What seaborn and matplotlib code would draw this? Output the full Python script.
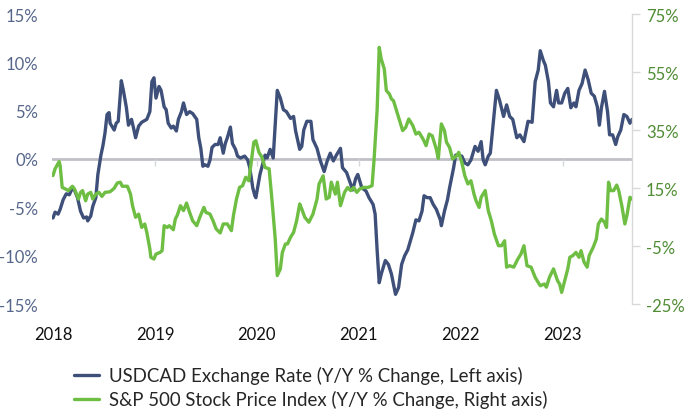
import numpy as np
import pandas as pd
import seaborn as sns
from matplotlib import pyplot as plt
from matplotlib.lines import Line2D

# USDCAD y/y % change (left axis), dates as decimal years
usdcad_t = [2018.00, 2018.02, 2018.05, 2018.07, 2018.10, 2018.13, 2018.16, 2018.19, 2018.21, 2018.24,
            2018.27, 2018.30, 2018.33, 2018.34, 2018.37, 2018.39, 2018.42, 2018.44, 2018.47, 2018.49,
            2018.51, 2018.53, 2018.55, 2018.56, 2018.60, 2018.62, 2018.64, 2018.67, 2018.69, 2018.72,
            2018.74, 2018.77, 2018.79, 2018.81, 2018.84, 2018.87, 2018.92, 2018.95, 2018.97, 2018.99,
            2019.01, 2019.04, 2019.06, 2019.09, 2019.11, 2019.13, 2019.16, 2019.18, 2019.21, 2019.23,
            2019.26, 2019.28, 2019.31, 2019.34, 2019.37, 2019.41, 2019.43, 2019.45, 2019.47, 2019.49,
            2019.52, 2019.54, 2019.56, 2019.59, 2019.62, 2019.64, 2019.67, 2019.69, 2019.71, 2019.74,
            2019.76, 2019.79, 2019.81, 2019.84, 2019.88, 2019.91, 2019.93, 2019.96, 2019.98, 2019.99,
            2020.03, 2020.08, 2020.10, 2020.13, 2020.16, 2020.20, 2020.23, 2020.26, 2020.29, 2020.33,
            2020.36, 2020.38, 2020.42, 2020.44, 2020.46, 2020.49, 2020.53, 2020.55, 2020.59, 2020.62,
            2020.66, 2020.69, 2020.72, 2020.75, 2020.78, 2020.82, 2020.84, 2020.88, 2020.91, 2020.94,
            2020.97, 2020.99, 2021.03, 2021.07, 2021.10, 2021.14, 2021.16, 2021.18, 2021.20, 2021.22,
            2021.26, 2021.29, 2021.32, 2021.36, 2021.39, 2021.42, 2021.45, 2021.48, 2021.51, 2021.53,
            2021.56, 2021.59, 2021.62, 2021.64, 2021.67, 2021.70, 2021.73, 2021.76, 2021.80, 2021.81,
            2021.84, 2021.87, 2021.89, 2021.93, 2021.95, 2021.97, 2022.01, 2022.04, 2022.07, 2022.10,
            2022.12, 2022.14, 2022.17, 2022.20, 2022.22, 2022.24, 2022.27, 2022.29, 2022.32, 2022.35,
            2022.38, 2022.42, 2022.45, 2022.48, 2022.51, 2022.55, 2022.58, 2022.62, 2022.66, 2022.70,
            2022.73, 2022.76, 2022.78, 2022.81, 2022.83, 2022.86, 2022.88, 2022.91, 2022.94, 2022.96,
            2022.99, 2023.02, 2023.05, 2023.08, 2023.11, 2023.13, 2023.16, 2023.19, 2023.22, 2023.25,
            2023.28, 2023.31, 2023.34, 2023.36, 2023.38, 2023.41, 2023.44, 2023.46, 2023.49, 2023.52,
            2023.54, 2023.57, 2023.60, 2023.63, 2023.66, 2023.68]
usdcad_v = [-6.1, -5.5, -5.7, -5.2, -4.2, -3.6, -3.7, -3.0, -3.2, -4.0,
            -5.4, -6.1, -6.0, -6.4, -5.9, -4.9, -4.0, -1.6, 0.4, 1.4,
            2.7, 4.6, 4.8, 3.7, 3.0, 3.7, 3.9, 8.1, 7.1, 5.3,
            3.5, 4.1, 3.2, 2.2, 3.4, 3.8, 4.1, 4.9, 8.0, 8.4,
            6.3, 7.5, 7.1, 5.4, 5.1, 3.7, 3.2, 3.4, 2.9, 4.1,
            4.9, 5.8, 4.6, 4.9, 4.7, 4.1, 2.2, 1.1, -0.75, -0.6,
            -0.75, -0.1, 1.2, 1.5, 1.5, 2.2, 0.6, 1.6, 2.2, 3.3,
            1.6, 1.0, 0.3, 0.1, 0.3, -0.1, -0.9, -3.0, -3.8, -4.0,
            -1.6, 0.4, 0.1, 1.0, 0.1, 7.1, 6.3, 5.1, 4.9, 4.2,
            4.4, 2.9, 1.0, 1.3, 3.0, 3.9, 3.9, 2.0, 1.1, -0.1,
            -1.3, -0.2, 0.6, -0.2, 0.4, 1.1, -0.9, -1.4, -2.3, -3.2,
            -2.0, -1.6, -3.0, -3.3, -4.0, -4.7, -5.7, -9.5, -12.8, -11.9,
            -10.5, -10.9, -11.9, -14.0, -13.3, -10.9, -10.0, -9.4, -8.3, -7.6,
            -6.3, -6.4, -5.4, -3.8, -4.0, -4.0, -4.7, -5.2, -6.3, -6.9,
            -5.4, -4.2, -3.0, -0.9, 0.4, 0.4, 0.3, -0.4, -0.6, -0.1,
            0.6, 1.3, 0.8, 1.8, -0.1, -0.6, 0.3, 0.6, 3.9, 7.1,
            6.1, 4.4, 5.6, 4.4, 4.1, 2.2, 2.5, 1.8, 3.9, 3.8,
            8.0, 9.2, 11.2, 10.2, 9.7, 8.0, 5.8, 5.4, 7.1, 5.8,
            5.8, 6.8, 7.3, 5.3, 5.8, 5.4, 7.1, 7.8, 9.2, 8.2,
            6.8, 6.5, 5.4, 3.5, 5.3, 7.0, 4.9, 2.5, 2.5, 1.5,
            2.3, 3.0, 4.6, 4.4, 3.7, 4.1]

# S&P 500 y/y % change (right axis)
spx_t = [2018.00, 2018.02, 2018.06, 2018.07, 2018.09, 2018.12, 2018.15, 2018.19, 2018.21, 2018.25,
         2018.27, 2018.29, 2018.32, 2018.34, 2018.37, 2018.39, 2018.42, 2018.45, 2018.48, 2018.51,
         2018.56, 2018.60, 2018.63, 2018.66, 2018.68, 2018.73, 2018.76, 2018.78, 2018.81, 2018.84,
         2018.87, 2018.90, 2018.92, 2018.95, 2018.96, 2018.99, 2019.01, 2019.05, 2019.07, 2019.09,
         2019.12, 2019.14, 2019.18, 2019.20, 2019.22, 2019.25, 2019.28, 2019.31, 2019.34, 2019.37,
         2019.41, 2019.44, 2019.48, 2019.50, 2019.54, 2019.57, 2019.60, 2019.64, 2019.67, 2019.71,
         2019.75, 2019.77, 2019.80, 2019.83, 2019.86, 2019.89, 2019.92, 2019.94, 2019.97, 2019.99,
         2020.02, 2020.05, 2020.08, 2020.12, 2020.15, 2020.18, 2020.20, 2020.23, 2020.25, 2020.28,
         2020.30, 2020.33, 2020.36, 2020.39, 2020.42, 2020.44, 2020.47, 2020.51, 2020.55, 2020.59,
         2020.61, 2020.65, 2020.68, 2020.71, 2020.73, 2020.77, 2020.79, 2020.82, 2020.86, 2020.89,
         2020.92, 2020.95, 2020.98, 2021.01, 2021.05, 2021.09, 2021.13, 2021.15, 2021.18, 2021.20,
         2021.22, 2021.25, 2021.27, 2021.30, 2021.32, 2021.34, 2021.37, 2021.40, 2021.43, 2021.46,
         2021.49, 2021.53, 2021.56, 2021.59, 2021.63, 2021.66, 2021.69, 2021.72, 2021.76, 2021.78,
         2021.81, 2021.84, 2021.86, 2021.89, 2021.92, 2021.96, 2021.98, 2022.01, 2022.04, 2022.07,
         2022.10, 2022.13, 2022.15, 2022.18, 2022.20, 2022.24, 2022.27, 2022.30, 2022.33, 2022.37,
         2022.40, 2022.43, 2022.45, 2022.48, 2022.52, 2022.56, 2022.59, 2022.62, 2022.65, 2022.69,
         2022.73, 2022.75, 2022.78, 2022.82, 2022.84, 2022.87, 2022.91, 2022.95, 2022.97, 2022.99,
         2023.02, 2023.05, 2023.07, 2023.10, 2023.13, 2023.16, 2023.18, 2023.21, 2023.24, 2023.26,
         2023.30, 2023.33, 2023.35, 2023.38, 2023.41, 2023.43, 2023.45, 2023.47, 2023.50, 2023.53,
         2023.55, 2023.58, 2023.61, 2023.63, 2023.66, 2023.68]
spx_v = [19.3, 21.6, 24.1, 22.7, 15.2, 14.7, 14.1, 15.6, 14.7, 11.2,
         13.5, 14.1, 10.6, 12.9, 13.5, 11.2, 12.9, 13.5, 12.1, 13.5,
         13.7, 14.9, 16.7, 17.0, 15.6, 15.6, 12.9, 8.9, 4.9, 6.0,
         1.4, 2.6, -0.3, -6.0, -8.9, -9.5, -7.8, -7.2, -6.6, 2.0,
         1.4, 2.0, 0.6, 4.3, 5.7, 8.9, 7.2, 9.8, 6.6, 3.7,
         2.0, 4.9, 8.3, 6.6, 6.0, 3.7, 0.9, -0.5, 2.6, 2.6,
         0.3, 5.5, 11.2, 15.2, 15.8, 18.7, 17.5, 22.7, 30.8, 31.3,
         27.3, 25.6, 22.1, 21.6, 10.1, -2.6, -15.2, -12.9, -7.2, -4.3,
         -4.3, -2.0, -0.3, 3.7, 9.5, 7.8, 4.9, 3.2, 6.0, 11.2,
         16.4, 19.2, 11.2, 11.8, 17.0, 12.9, 17.0, 8.9, 13.5, 15.2,
         14.1, 15.2, 13.5, 14.7, 15.2, 15.2, 15.8, 25.0, 42.2, 63.5,
         59.5, 56.0, 48.6, 47.4, 45.7, 45.1, 41.7, 38.2, 34.8, 35.9,
         38.8, 36.5, 33.6, 34.2, 31.9, 29.6, 33.6, 33.0, 28.4, 25.2,
         37.1, 34.8, 30.8, 29.0, 25.0, 26.1, 27.3, 23.9, 19.2, 16.4,
         17.5, 12.9, 10.6, 8.3, 11.8, 14.1, 7.2, 3.7, -0.9, -4.9,
         -4.9, -3.2, -12.3, -11.8, -12.3, -9.5, -7.8, -4.9, -11.8, -12.3,
         -15.8, -17.0, -18.7, -18.1, -19.2, -15.8, -12.9, -17.0, -18.1, -21.0,
         -17.0, -12.9, -8.9, -8.3, -7.2, -8.9, -6.6, -10.6, -12.3, -8.3,
         -5.4, -2.6, 2.6, 4.3, 3.2, 1.4, 17.0, 14.1, 14.1, 16.0,
         14.1, 8.9, 2.6, 5.5, 11.8, 11.2]

years = [2018, 2019, 2020, 2021, 2022, 2023]
left_ticks = [15, 10, 5, 0, -5, -10, -15]
right_ticks = [75, 55, 35, 15, -5, -25]

label_usdcad = 'USDCAD Exchange Rate (Y/Y % Change, Left axis)'
label_spx = 'S&P 500 Stock Price Index (Y/Y % Change, Right axis)'

blue = '#3e5079'
green = '#6fbe44'
gray = '#bfc1c6'

df_cad = pd.DataFrame({'t': usdcad_t, 'v': usdcad_v})
df_spx = pd.DataFrame({'t': spx_t, 'v': spx_v})

sns.set_style('white')
plt.rcParams['font.family'] = ['Lato', 'DejaVu Sans']

fig = plt.figure(figsize=(6.86, 4.14), dpi=100)
ax = fig.add_axes([52 / 686, 1 - 305 / 414, 580 / 686, 290 / 414])
ax2 = ax.twinx()

ax.axhline(0, color=gray, lw=2, zorder=1)
ax.vlines(years[1:], -0.75, 0, color='#d6d7da', lw=1, zorder=1)

sns.lineplot(data=df_cad, x='t', y='v', ax=ax, color=blue, lw=2.4, zorder=3)
sns.lineplot(data=df_spx, x='t', y='v', ax=ax2, color=green, lw=2.4, zorder=3)

ax.set_xlim(2017.99, 2023.68)
ax.set_ylim(-15, 15)
ax2.set_ylim(-25, 75)

ax.set_xticks(years)
ax.set_xticklabels([str(y) for y in years], fontsize=12, color='#111111')
ax.tick_params(axis='x', length=0, pad=16)
ax.set_yticks(left_ticks)
ax.set_yticklabels([f'{t}%' for t in left_ticks], fontsize=12, color='#56668a')
ax.tick_params(axis='y', length=0, pad=10)
ax.set_xlabel('')
ax.set_ylabel('')

ax2.set_yticks(right_ticks)
ax2.set_yticklabels([f'{t}%' for t in right_ticks], fontsize=12, color='#4f8c33')
ax2.tick_params(axis='y', length=6, width=1, color='#d9d9dc', pad=4, direction='out')
ax2.set_ylabel('')

for a in (ax, ax2):
    for s in a.spines.values():
        s.set_visible(False)
ax2.spines['right'].set_visible(True)
ax2.spines['right'].set_color('#d9d9dc')
ax2.spines['right'].set_linewidth(1)

handles = [Line2D([], [], color=blue, lw=2.4), Line2D([], [], color=green, lw=2.4)]
fig.legend(handles, [label_usdcad, label_spx], loc='upper left',
           bbox_to_anchor=(74 / 686, 1 - 367 / 414), frameon=False,
           fontsize=13.4, handlelength=1.35, handletextpad=0.55, labelspacing=0.32,
           borderaxespad=0, borderpad=0)

fig.savefig('out.png', dpi=100)
